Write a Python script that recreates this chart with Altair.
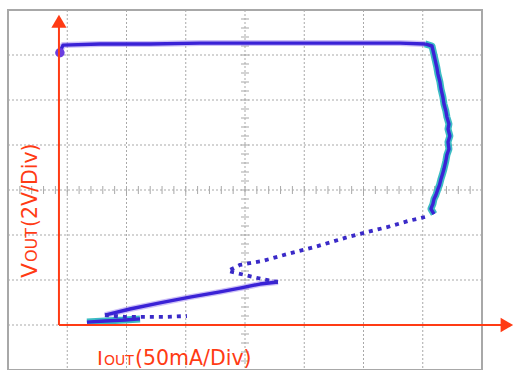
import altair as alt
import pandas as pd
import numpy as np

# ---------------- data (IOUT in mA, VOUT in V, origin at red axes) ----------
top_i = [0.8, 3.4, 34.6, 76.8, 119.0, 161.2, 203.4, 245.6, 287.8, 308.9]
top_v = [12.13, 12.44, 12.49, 12.49, 12.53, 12.53, 12.53, 12.53, 12.53, 12.49]

knee_i = [308.9, 314.8, 317.3, 318.9, 319.8, 321.5, 322.4, 324.0, 324.9, 326.5,
          327.4, 329.1, 328.3, 329.9, 328.3, 329.1, 327.4, 326.5, 324.9, 323.7,
          322.4, 321.1, 319.8, 318.1, 316.5, 315.6, 313.9, 316.5]
knee_v = [12.49, 12.40, 11.82, 11.44, 11.16, 10.80, 10.49, 10.13, 9.82, 9.51,
          9.24, 8.93, 8.71, 8.40, 8.13, 7.82, 7.56, 7.29, 6.93, 6.71,
          6.49, 6.22, 6.04, 5.78, 5.60, 5.38, 5.16, 4.93]

fold_i = [308.9, 294.5, 277.6, 259.9, 241.4, 216.0, 193.2, 171.3, 152.7, 142.6,
          157.0, 171.3, 184.8]
fold_v = [4.80, 4.62, 4.36, 4.13, 3.87, 3.47, 3.16, 2.84, 2.67, 2.40,
          2.22, 2.04, 1.91]

ret_i = [184.8, 169.6, 152.7, 135.9, 110.5, 85.2, 59.9, 38.8]
ret_v = [1.91, 1.82, 1.64, 1.47, 1.24, 0.98, 0.71, 0.44]

tail_i = [38.8, 55.7, 72.6, 89.5, 108.0]
tail_v = [0.44, 0.36, 0.36, 0.36, 0.40]

base_i = [23.6, 38.8, 55.7, 68.4]
base_v = [0.13, 0.18, 0.22, 0.27]

start_i = [0.8]
start_v = [12.1]

# screen / grid (50 mA/div, 2 V/div)
x_dom = [-43, 357]
y_dom = [-2, 14]
x_grid = [7, 57, 107, 157, 207, 257, 307]
y_grid = [0, 2, 4, 6, 8, 10, 12]
x_center = 157
y_center = 6

RED = "#ff3b14"
BLUE = "#3a22d6"
TEAL = "#3cbcc4"
GRID = "#a9a9a9"

def X(f):
    return alt.X(f"{f}:Q", scale=alt.Scale(domain=x_dom, nice=False, zero=False), axis=None)

def Y(f):
    return alt.Y(f"{f}:Q", scale=alt.Scale(domain=y_dom, nice=False, zero=False), axis=None)

def seg_df(pairs):
    rows = []
    for name, xs, ys in pairs:
        for k, (a, b) in enumerate(zip(xs, ys)):
            rows.append({"i": a, "v": b, "seg": name, "n": k})
    return pd.DataFrame(rows)

# grid
vgrid = alt.Chart(pd.DataFrame({"g": x_grid})).mark_rule(
    color=GRID, strokeDash=[2, 2], strokeWidth=1).encode(x=X("g"))
hgrid = alt.Chart(pd.DataFrame({"g": y_grid})).mark_rule(
    color=GRID, strokeDash=[2, 2], strokeWidth=1).encode(y=Y("g"))

yt = np.round(np.arange(y_dom[0], y_dom[1] + 0.001, 0.4), 2)
xt = np.arange(x_dom[0], x_dom[1] + 0.001, 10.0)
vticks = alt.Chart(pd.DataFrame({"t": yt, "c": x_center})).mark_rule(
    color=GRID, strokeWidth=1, xOffset=-4, x2Offset=4).encode(
    y=Y("t"), x=X("c"), x2="c:Q")
hticks = alt.Chart(pd.DataFrame({"t": xt, "c": y_center})).mark_rule(
    color=GRID, strokeWidth=1, yOffset=-4, y2Offset=4).encode(
    x=X("t"), y=Y("c"), y2="c:Q")

# trace
halo = alt.Chart(seg_df([("top", top_i, top_v), ("ret", ret_i, ret_v)])).mark_line(
    color="#9a80f0", strokeWidth=6, opacity=0.5, strokeJoin="round").encode(
    x=X("i"), y=Y("v"), detail="seg:N", order="n:Q")
teal = alt.Chart(seg_df([("knee", knee_i, knee_v), ("base", base_i, base_v)])).mark_line(
    color=TEAL, strokeWidth=7, strokeJoin="round").encode(
    x=X("i"), y=Y("v"), detail="seg:N", order="n:Q")
core = alt.Chart(seg_df([("top", top_i, top_v), ("knee", knee_i, knee_v),
                         ("ret", ret_i, ret_v), ("base", base_i, base_v)])).mark_line(
    color=BLUE, strokeWidth=3.4, strokeJoin="round").encode(
    x=X("i"), y=Y("v"), detail="seg:N", order="n:Q")
dotted = alt.Chart(seg_df([("fold", fold_i, fold_v), ("tail", tail_i, tail_v)])).mark_line(
    color="#3a2ac8", strokeWidth=3.8, strokeDash=[4, 5]).encode(
    x=X("i"), y=Y("v"), detail="seg:N", order="n:Q")
blob = alt.Chart(pd.DataFrame({"i": start_i, "v": start_v})).mark_circle(
    color="#6a3ee0", size=90, opacity=1).encode(x=X("i"), y=Y("v"))

# red axes with arrows
ax_v = alt.Chart(pd.DataFrame({"a": [0], "b": [0], "b2": [13.3]})).mark_rule(
    color=RED, strokeWidth=2).encode(x=X("a"), y=Y("b"), y2="b2:Q")
ax_h = alt.Chart(pd.DataFrame({"a": [0], "a2": [376], "b": [0]})).mark_rule(
    color=RED, strokeWidth=2).encode(x=X("a"), x2="a2:Q", y=Y("b"))
arr_v = alt.Chart(pd.DataFrame({"a": [0], "b": [13.5]})).mark_point(
    shape="triangle-up", filled=True, color=RED, size=230, opacity=1).encode(x=X("a"), y=Y("b"))
arr_h = alt.Chart(pd.DataFrame({"a": [378], "b": [0]})).mark_point(
    shape="triangle-right", filled=True, color=RED, size=210, opacity=1).encode(x=X("a"), y=Y("b"))

# axis labels
FONT = "DejaVu Sans"
def label(txt, px, py, size, angle=0):
    return alt.Chart(pd.DataFrame({"t": [txt]})).mark_text(
        font=FONT, fontSize=size, color=RED, align="left", baseline="alphabetic",
        angle=angle).encode(x=alt.value(px), y=alt.value(py), text="t:N")

labels = [
    label("I", 89, 355, 20),
    label("OUT", 96, 355, 14),
    label("(50mA/Div)", 127, 355, 20.5),
    label("V", 29, 268, 22, 270),
    label("OUT", 29, 252, 16, 270),
    label("(2V/Div)", 29, 217, 20.5, 270),
]

chart = alt.layer(
    vgrid, hgrid, vticks, hticks, halo, teal, core, dotted, blob,
    ax_v, ax_h, arr_v, arr_h, *labels
).properties(
    width=474, height=360,
    autosize=alt.AutoSizeParams(type="none"),
    padding={"left": 8, "top": 10, "right": 32, "bottom": 0},
).configure_view(stroke="#a8a8a8", strokeWidth=2)

chart.save("out.html", embed_options={"renderer": "svg", "actions": False})
